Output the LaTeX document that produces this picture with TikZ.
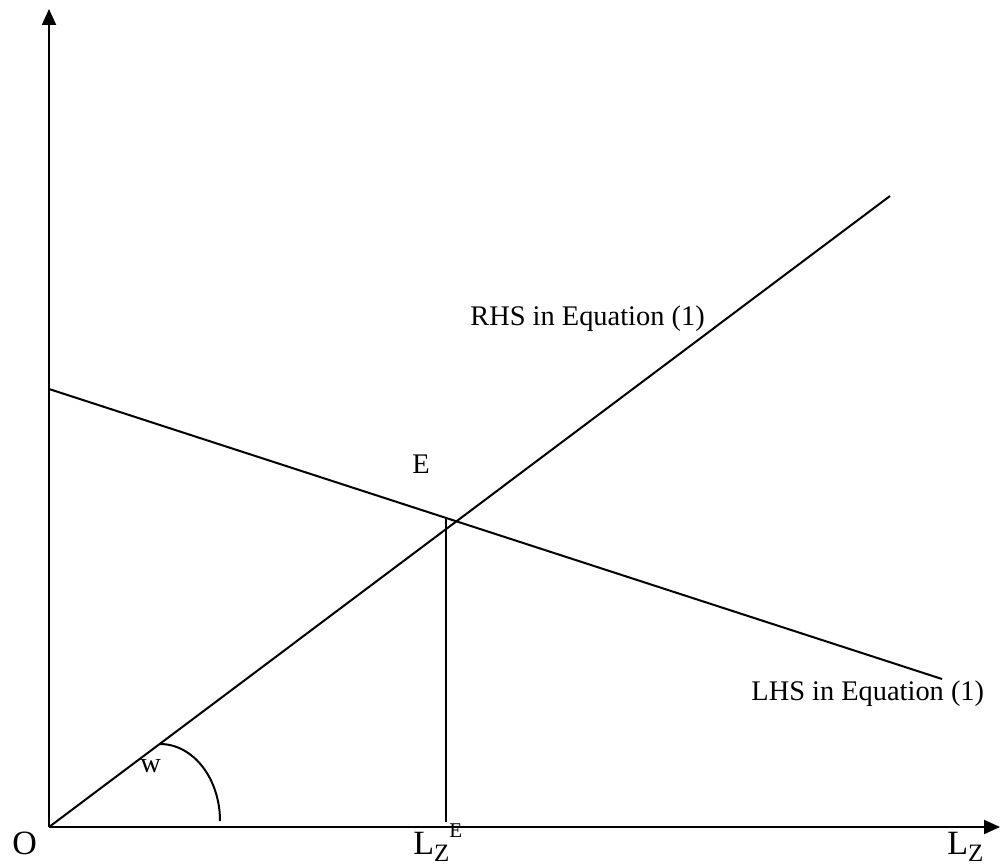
\documentclass[tikz,border=0pt]{standalone}
\usepackage{fontspec}
\setmainfont{Liberation Serif}
\usetikzlibrary{arrows.meta}
\newcommand{\axlab}{\fontsize{17}{17}\selectfont}
\newcommand{\sublab}{\fontsize{12.5}{12.5}\selectfont}
\newcommand{\suplab}{\fontsize{10.5}{10.5}\selectfont}
\begin{document}
\begin{tikzpicture}[x=0.5pt,y=-0.5pt,
  axis/.style={line width=1pt,-{Triangle[length=8pt,width=7pt]}},
  curve/.style={line width=1pt},
  lab/.style={inner sep=0pt,anchor=base west,font=\fontsize{14.2}{14.2}\selectfont},
  axl/.style={inner sep=0pt,anchor=base west,font=\axlab}]
\useasboundingbox (0,0) rectangle (1000,866);
\coordinate (O) at (49,827);
\coordinate (Ytop) at (49,9);
\coordinate (Xend) at (1000,827);
\coordinate (Rend) at (890,196);
\coordinate (Lstart) at (49,389);
\coordinate (Lend) at (942,679);
\coordinate (Etop) at (446,519);
\coordinate (Ebot) at (446,822);
\coordinate (Wtop) at (160,744);
\draw[axis] (O) -- (Ytop);
\draw[axis] (O) -- (Xend);
\draw[curve] (O) -- (Rend);
\draw[curve] (Lstart) -- (Lend);
\draw[curve] (Etop) -- (Ebot);
\draw[curve] (Wtop) arc[start angle=90,end angle=0,x radius=60,y radius=-77];
\node[axl] (lo) at (12,854) {O};
\node[axl] (lze) at (413,854) {L\raisebox{-3.5pt}{\sublab Z}\raisebox{8.5pt}{\suplab E}};
\node[axl] (lz) at (947,854) {L\raisebox{-3.5pt}{\sublab Z}};
\node[lab] (rhs) at (470,325) {RHS in Equation (1)};
\node[lab] (lhs) at (751,700) {LHS in Equation (1)};
\node[lab] (e) at (412,473) {E};
\node[lab] (w) at (140,772) {w};
\end{tikzpicture}
\end{document}
